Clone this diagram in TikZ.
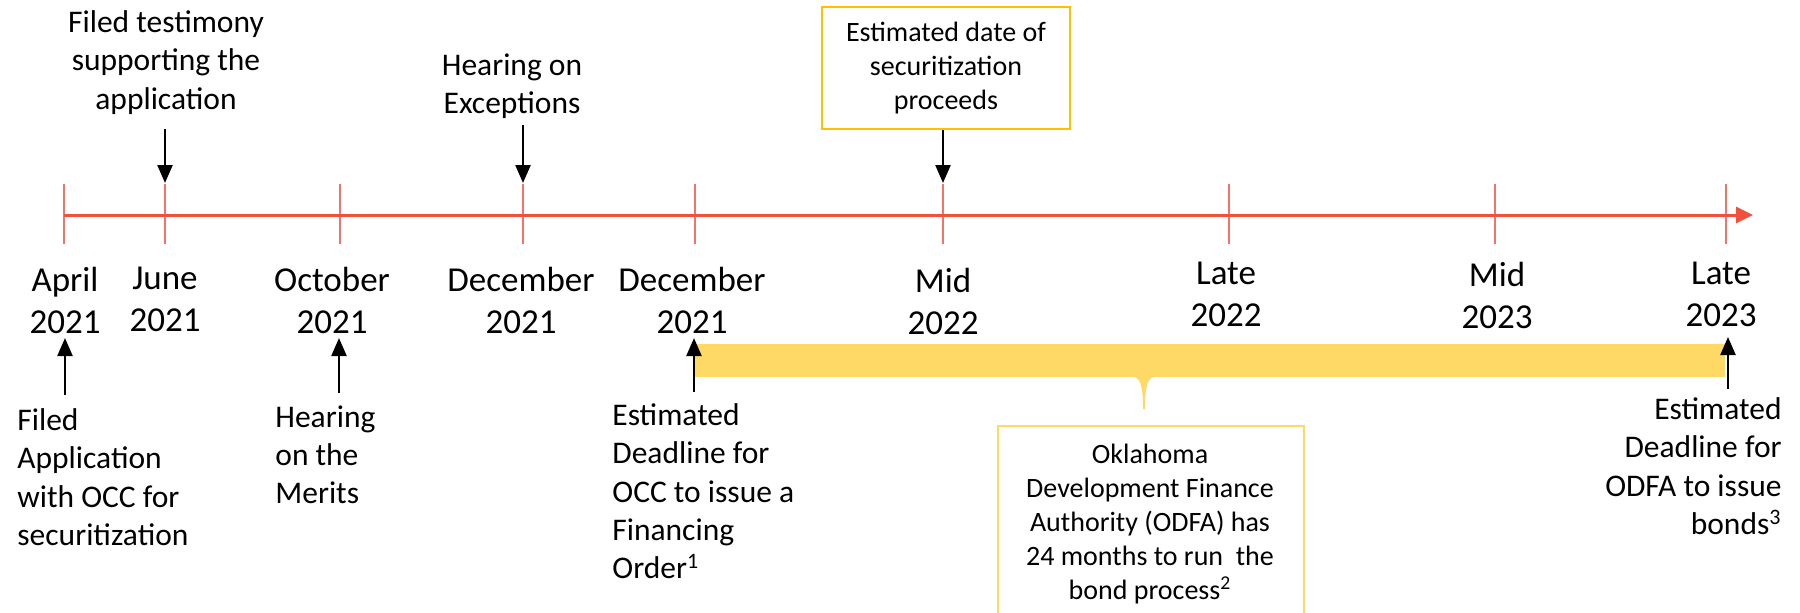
\documentclass[tikz,border=0pt]{standalone}
\usepackage{fontspec}
\setmainfont{Carlito}
\usetikzlibrary{arrows.meta}
\definecolor{tlred}{HTML}{F0503C}
\definecolor{tickred}{HTML}{F27468}
\definecolor{barc}{HTML}{FFD966}
\definecolor{boxc}{HTML}{FFC000}
\definecolor{okc}{HTML}{FFD966}
\tikzset{
  ann/.style={inner sep=0pt, font=\fontsize{15.75pt}{19.2pt}\selectfont},
  datel/.style={inner sep=0pt, align=center, font=\fontsize{17.5pt}{21pt}\selectfont},
  boxtxt/.style={inner sep=0pt, align=center, font=\fontsize{14pt}{17pt}\selectfont},
  arr/.style={line width=1.15pt, -{Triangle[length=9pt,width=7.5pt]}},
  tl/.style={tlred, line width=1.5pt, -{Triangle[length=8.5pt,width=8pt]}},
  tk/.style={tickred, line width=0.7pt},
}
\begin{document}
\begin{tikzpicture}[x=0.5pt,y=-0.5pt]
\useasboundingbox (0,0) rectangle (1800,612);
% ticks
\foreach \n/\x in {1/64,2/165,3/340,4/523,5/695,6/943,7/1229,8/1495,9/1726}{
  \coordinate (k\n) at (\x,184);
  \coordinate (kb\n) at (\x,244);
  \draw[tk] (k\n) -- (kb\n);
}
% timeline
\coordinate (ts) at (64,215);
\coordinate (te) at (1753,215);
\draw[tl] (ts) -- (te);

% top annotations
\node[ann, align=center, anchor=north] (a1) at (166,10) {Filed testimony\\supporting the\\application};
\node[ann, align=center, anchor=north] (a2) at (512,53) {Hearing on\\Exceptions};
\node[boxtxt, draw=boxc, line width=1.3pt, minimum width=124pt, minimum height=61pt] (b1) at (946,68) {Estimated date of\\securitization\\proceeds};

\coordinate (e2) at (165,183);
\coordinate (e4) at (523,183);
\coordinate (e6) at (943,183);
\draw[arr] (a1.south -| e2) ++(0,14) -- (e2);
\draw[arr] (a2.south -| e4) ++(0,6) -- (e4);
\draw[arr] (b1.south -| e6) -- (e6);

% date labels
\node[datel, anchor=north] (d1) at (65,267) {April\\2021};
\node[datel, anchor=north] (d2) at (165,267) {June\\2021};
\node[datel, anchor=north] (d3) at (332,267) {October\\2021};
\node[datel, anchor=north] (d4) at (521,267) {December\\2021};
\node[datel, anchor=north] (d5) at (692,267) {December\\2021};
\node[datel, anchor=north] (d6) at (943,268) {Mid\\2022};
\node[datel, anchor=north] (d7) at (1226,262) {Late\\2022};
\node[datel, anchor=north] (d8) at (1497,262) {Mid\\2023};
\node[datel, anchor=north] (d9) at (1721,262) {Late\\2023};

% yellow bar with callout spike
\fill[barc] (695,344) rectangle (1725,377);
\fill[barc] (1135,377) .. controls (1142,380) and (1143,392) .. (1143,409) -- (1145,409) .. controls (1145,392) and (1146,380) .. (1153,377) -- cycle;
\node[inner sep=0pt, minimum width=515pt, minimum height=16.5pt, anchor=north west] (bar) at (695,344) {};

% Oklahoma box
\begin{scope}
\clip (0,0) rectangle (1800,612);
\node[draw=okc, line width=0.9pt, inner sep=0pt, minimum width=153pt, minimum height=120pt, anchor=north west] (okbox) at (997,425) {};
\end{scope}
\node[boxtxt, anchor=north] (ok) at (1150,444) {Oklahoma\\Development Finance\\Authority (ODFA) has\\24 months to run~ the\\bond process\textsuperscript{2}};

% bottom annotations
\node[ann, align=left, anchor=north west] (c1) at (17,408) {Filed\\Application\\with OCC for\\securitization};
\node[ann, align=left, anchor=north west] (c3) at (275,405) {Hearing\\on the\\Merits};
\node[ann, align=left, anchor=north west] (c5) at (612,403) {Estimated\\Deadline for\\OCC to issue a\\Financing\\Order\textsuperscript{1}};
\node[ann, align=right, anchor=north east] (c9) at (1782,397) {Estimated\\Deadline for\\ODFA to issue\\bonds\textsuperscript{3}};

% up arrows
\coordinate (u1) at (65,395);  \coordinate (v1) at (65,338);
\coordinate (u3) at (339,393); \coordinate (v3) at (339,338);
\coordinate (u5) at (694,392); \coordinate (v5) at (694,338);
\coordinate (u9) at (1728,389); \coordinate (v9) at (1728,337);
\draw[arr] (u1) -- (v1);
\draw[arr] (u3) -- (v3);
\draw[arr] (u5) -- (v5);
\draw[arr] (u9) -- (v9);
\end{tikzpicture}
\end{document}
